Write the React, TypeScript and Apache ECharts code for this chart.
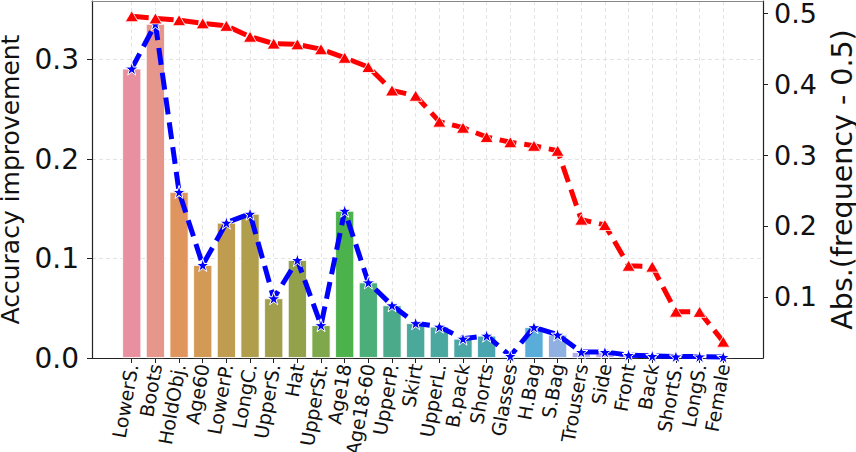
import React, { useEffect, useRef } from "react";
import * as echarts from "echarts";

const categories = [
  "LowerS.", "Boots", "HoldObj.", "Age60", "LowerP.", "LongC.", "UpperS.", "Hat",
  "UpperSt.", "Age18", "Age18-60", "UpperP.", "Skirt", "UpperL.", "B.pack", "Shorts",
  "Glasses", "H.Bag", "S.Bag", "Trousers", "Side", "Front", "Back", "ShortS.", "LongS.", "Female",
];

const accuracyImprovement = [
  0.291, 0.336, 0.167, 0.0935, 0.136, 0.145, 0.06, 0.0985, 0.033, 0.148,
  0.076, 0.053, 0.035, 0.0315, 0.0194, 0.0224, 0.002, 0.031, 0.0234, 0.006,
  0.006, 0.003, 0.002, 0.0015, 0.0015, 0.001,
];

const absFrequencyGap = [
  0.4955, 0.4925, 0.49, 0.4855, 0.482, 0.4667, 0.457, 0.4559, 0.449, 0.437,
  0.424, 0.391, 0.3835, 0.347, 0.3385, 0.3254, 0.318, 0.313, 0.306, 0.2089,
  0.2014, 0.144, 0.1427, 0.0793, 0.079, 0.037,
];

const leftTicks = [0, 0.1, 0.2, 0.3];
const rightTicks = [0.1, 0.2, 0.3, 0.4, 0.5];

const barColors = [
  "#e8909f", "#e6968a", "#e0955f", "#d39a55", "#bf9c4f", "#b09e4d", "#a29f4c", "#93a14b",
  "#7fa84c", "#4cb24c", "#4cae78", "#4aaa8a", "#4aa99a", "#4aa8a0", "#4aa7a6", "#4aa6ae",
  "#4ca7b6", "#5aacd9", "#8fb0e0", "#b0aee8", "#c0a8e8", "#d0a0e0", "#dd9ed8", "#e49ccb",
  "#e89cba", "#e898aa",
];

const STAR =
  "path://M50,0 L61.2,34.5 L97.6,34.5 L68.2,55.9 L79.4,90.5 L50,69.1 L20.6,90.5 L31.8,55.9 L2.4,34.5 L38.8,34.5 Z";

const FONT = "DejaVu Sans";

export default function App() {
  const ref = useRef<HTMLDivElement>(null);

  useEffect(() => {
    if (!ref.current) return;
    const chart = echarts.init(ref.current, undefined, { renderer: "svg" });
    const idx = categories.map((_, i) => i);
    const xMin = -1.68;
    const xMax = categories.length - 1 + 1.68;
    const gridLine = { show: true, lineStyle: { color: "#e3e3e3", type: [4, 3], width: 1 } };

    chart.setOption({
      animation: false,
      textStyle: { fontFamily: FONT },
      grid: {
        left: 92,
        right: 93,
        top: 1,
        bottom: 94,
        containLabel: false,
        outerBoundsMode: "none",
      },
      xAxis: [
        {
          type: "value",
          min: xMin,
          max: xMax,
          position: "bottom",
          axisLine: { show: true, onZero: false, lineStyle: { color: "#222", width: 1.2 } },
          axisTick: { show: true, customValues: idx, length: 5, lineStyle: { color: "#222" } },
          axisLabel: {
            customValues: idx,
            rotate: 80,
            margin: 6,
            fontSize: 19,
            color: "#111",
            fontFamily: FONT,
            padding: [14, 0, 0, 0],
            hideOverlap: false,
            formatter: (v: number) => categories[Math.round(v)] ?? "",
          },
          splitLine: gridLine,
        },
        {
          type: "value",
          min: xMin,
          max: xMax,
          position: "top",
          axisLine: { show: true, onZero: false, lineStyle: { color: "#888", width: 1.2 } },
          axisTick: { show: false },
          axisLabel: { show: false },
          splitLine: { show: false },
        },
      ],
      yAxis: [
        {
          type: "value",
          min: 0,
          max: 0.359,
          position: "left",
          name: "Accuracy improvement",
          nameLocation: "middle",
          nameRotate: 90,
          nameGap: 64,
          nameTextStyle: { fontSize: 25, lineHeight: 26, color: "#111", fontFamily: FONT },
          axisLine: { show: true, onZero: false, lineStyle: { color: "#222", width: 1.2 } },
          axisTick: { show: true, customValues: leftTicks, length: 5, lineStyle: { color: "#222" } },
          axisLabel: {
            customValues: leftTicks,
            margin: 13,
            fontSize: 28,
            color: "#111",
            fontFamily: FONT,
            formatter: (v: number) => v.toFixed(1),
          },
          splitLine: gridLine,
        },
        {
          type: "value",
          min: 0.014,
          max: 0.517,
          position: "right",
          name: "Abs.(frequency - 0.5)",
          nameLocation: "middle",
          nameRotate: 90,
          nameGap: 57,
          nameTextStyle: { fontSize: 28.5, lineHeight: 29, color: "#111", fontFamily: FONT },
          axisLine: { show: true, onZero: false, lineStyle: { color: "#222", width: 1.2 } },
          axisTick: { show: true, customValues: rightTicks, length: 5, lineStyle: { color: "#222" } },
          axisLabel: {
            customValues: rightTicks,
            margin: 11,
            fontSize: 27,
            lineHeight: 24,
            color: "#111",
            fontFamily: FONT,
            formatter: (v: number) => v.toFixed(1),
          },
          splitLine: { show: false },
        },
      ],
      series: [
        {
          type: "bar",
          xAxisIndex: 0,
          yAxisIndex: 0,
          barWidth: 19,
          z: 2,
          data: accuracyImprovement.map((v, i) => ({
            value: [i, v],
            itemStyle: { color: barColors[i], borderColor: "#fff", borderWidth: 0.8 },
          })),
        },
        {
          type: "line",
          xAxisIndex: 0,
          yAxisIndex: 0,
          z: 3,
          data: accuracyImprovement.map((v, i) => [i, v]),
          symbol: STAR,
          symbolSize: 13,
          showAllSymbol: true,
          lineStyle: { color: "#0000ff", width: 5, type: [17, 8] },
          itemStyle: { color: "#0000ff", borderColor: "#fff", borderWidth: 1 },
        },
        {
          type: "line",
          xAxisIndex: 0,
          yAxisIndex: 1,
          z: 4,
          data: absFrequencyGap.map((v, i) => [i, v]),
          symbol: "triangle",
          symbolSize: [13, 11],
          showAllSymbol: true,
          lineStyle: { color: "#ff0000", width: 5, type: [17, 8] },
          itemStyle: { color: "#ff0000", borderColor: "#fff", borderWidth: 0.8 },
        },
      ],
    });
    return () => chart.dispose();
  }, []);

  return (
    <div
      ref={ref}
      style={{ position: "fixed", left: 0, top: 0, width: 856, height: 452, background: "#fff" }}
    />
  );
}
